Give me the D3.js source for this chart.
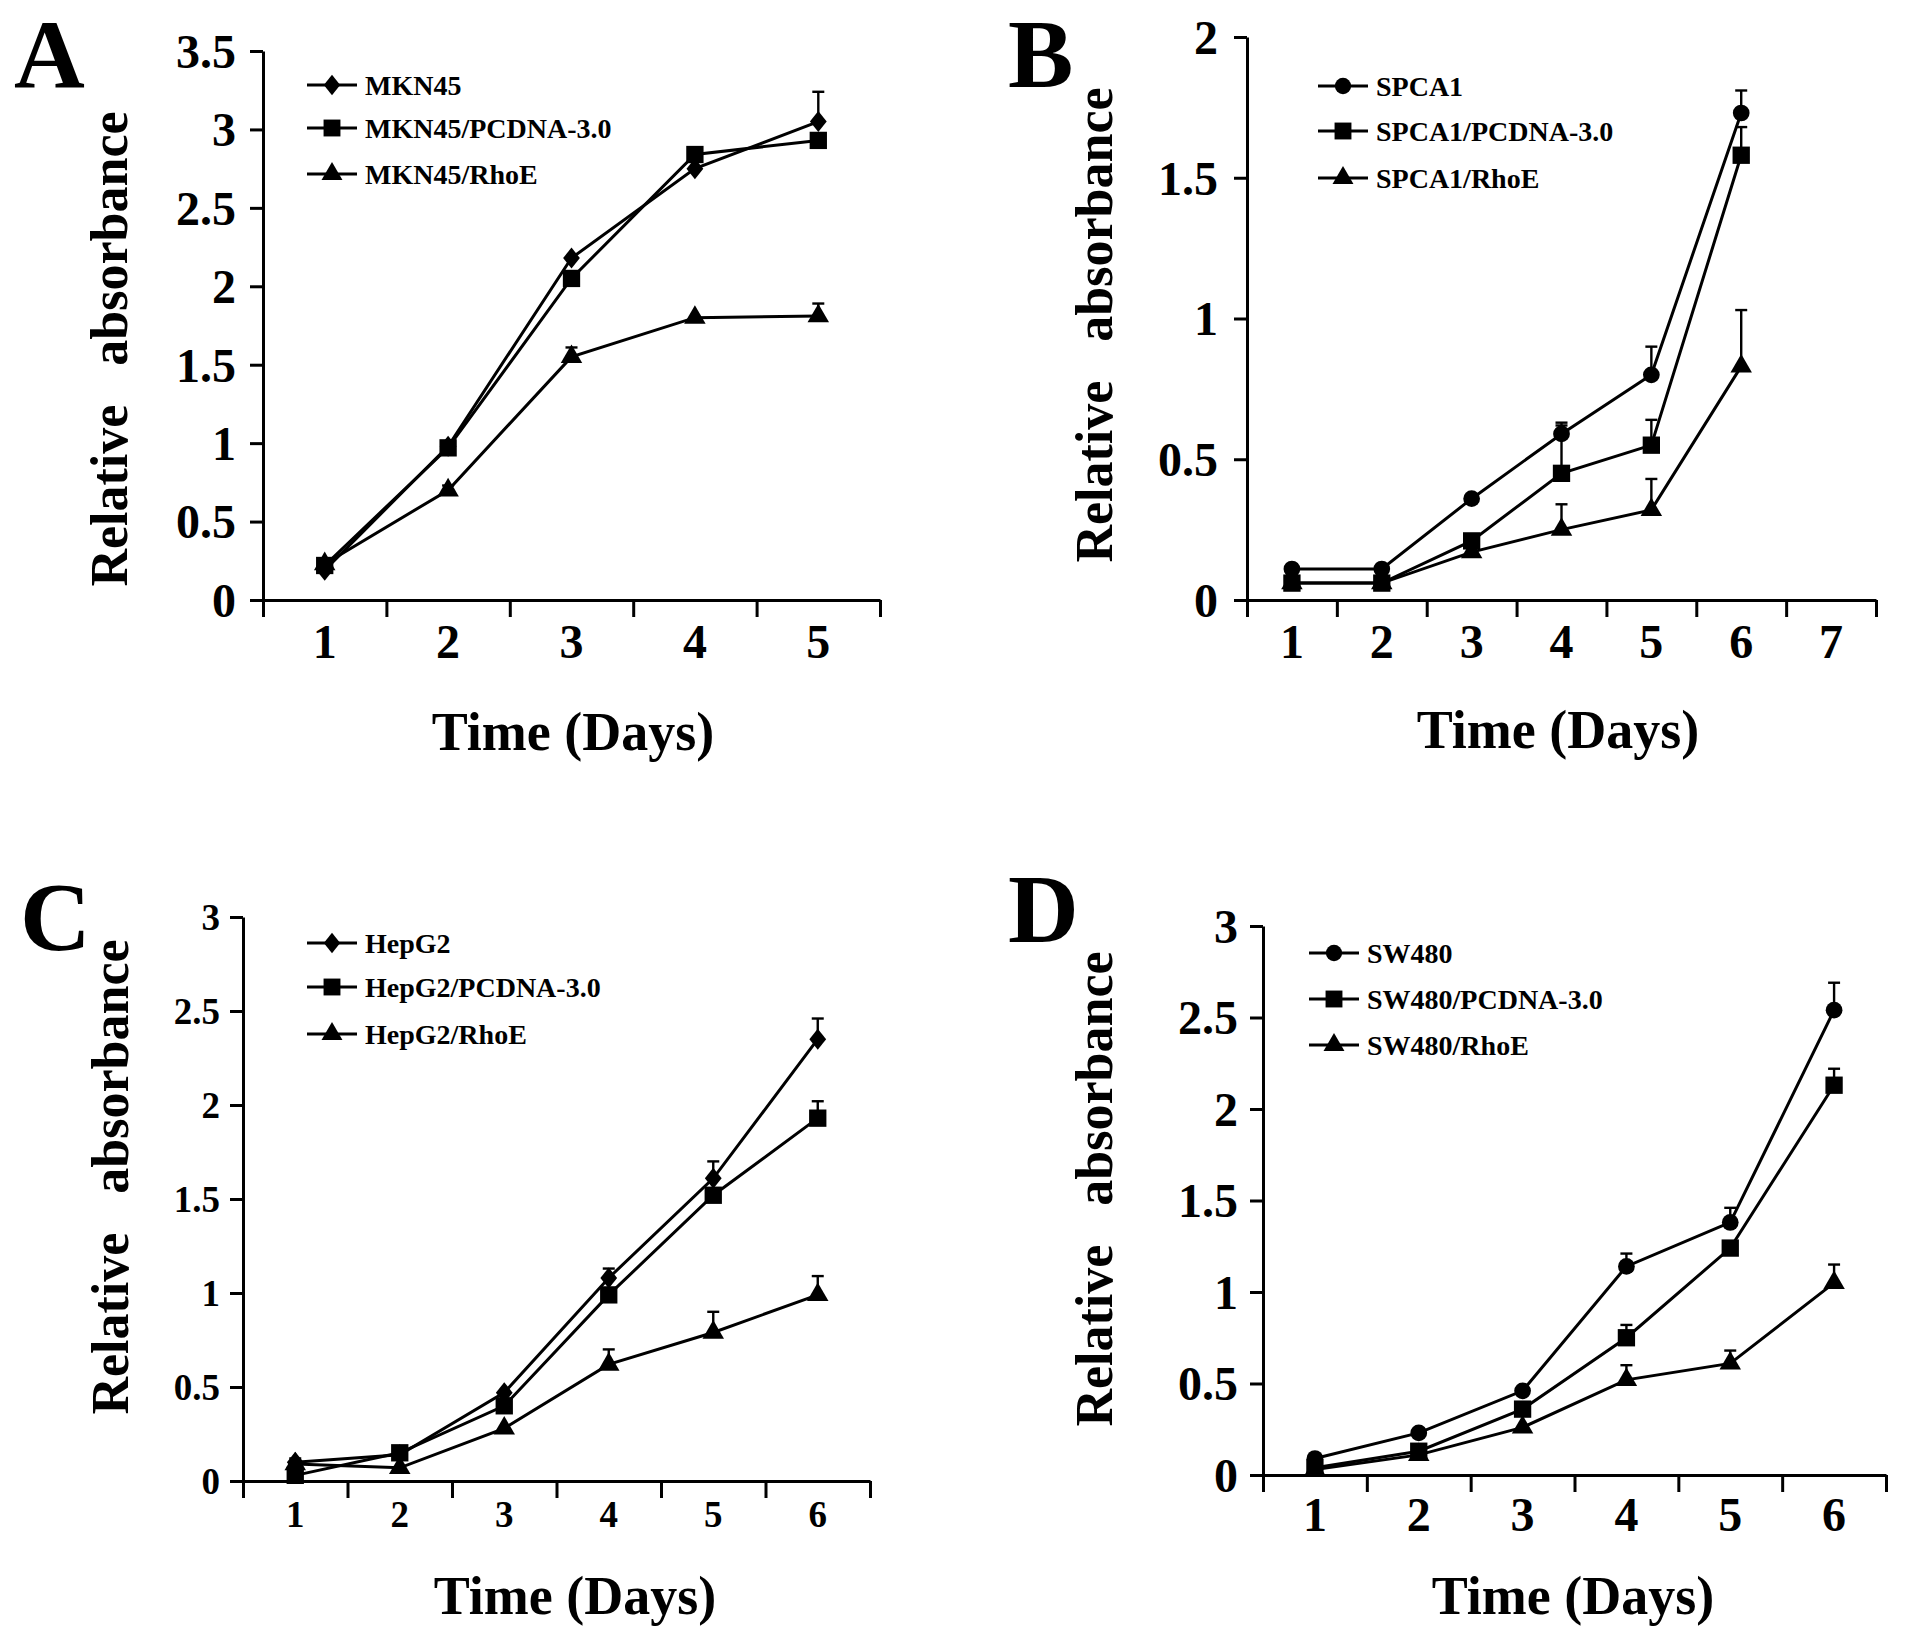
<!DOCTYPE html>
<html>
<head>
<meta charset="utf-8">
<script src="https://cdn.jsdelivr.net/npm/d3@7"></script>
<style>
  body { margin: 0; background: #fff; }
  svg text { font-family: "Liberation Serif", "Times New Roman", serif; font-weight: bold; fill: #000; }
</style>
</head>
<body>
<svg id="fig" width="1913" height="1646"></svg>
<script>
// ---- data ----
// Panel A (MKN45), days 1-5
const daysA = [1, 2, 3, 4, 5];
const namesA = ["MKN45", "MKN45/PCDNA-3.0", "MKN45/RhoE"];
const mkn45 = [0.19, 0.98, 2.18, 2.75, 3.05];
const mkn45Err = [0, 0, 0, 0, 0.19];
const mkn45Pc = [0.22, 0.97, 2.05, 2.84, 2.93];
const mkn45PcErr = [0, 0, 0, 0, 0];
const mkn45Rho = [0.23, 0.70, 1.55, 1.80, 1.81];
const mkn45RhoErr = [0, 0.03, 0.06, 0, 0.08];
const yTicksA = [0, 0.5, 1, 1.5, 2, 2.5, 3, 3.5];

// Panel B (SPCA1), axis days 1-7, data days 1-6
const daysB = [1, 2, 3, 4, 5, 6];
const namesB = ["SPCA1", "SPCA1/PCDNA-3.0", "SPCA1/RhoE"];
const spca1 = [0.11, 0.11, 0.36, 0.59, 0.80, 1.73];
const spca1Err = [0, 0, 0, 0.04, 0.10, 0.08];
const spca1Pc = [0.06, 0.06, 0.21, 0.45, 0.55, 1.58];
const spca1PcErr = [0, 0, 0, 0.17, 0.09, 0.10];
const spca1Rho = [0.06, 0.06, 0.17, 0.25, 0.32, 0.83];
const spca1RhoErr = [0, 0, 0, 0.09, 0.11, 0.20];
const yTicksB = [0, 0.5, 1, 1.5, 2];

// Panel C (HepG2), days 1-6
const daysC = [1, 2, 3, 4, 5, 6];
const namesC = ["HepG2", "HepG2/PCDNA-3.0", "HepG2/RhoE"];
const hepg2 = [0.10, 0.14, 0.47, 1.08, 1.61, 2.35];
const hepg2Err = [0.02, 0, 0, 0.05, 0.09, 0.11];
const hepg2Pc = [0.03, 0.15, 0.40, 0.99, 1.52, 1.93];
const hepg2PcErr = [0, 0, 0, 0, 0, 0.09];
const hepg2Rho = [0.09, 0.07, 0.28, 0.62, 0.79, 0.99];
const hepg2RhoErr = [0, 0, 0, 0.08, 0.11, 0.10];
const yTicksC = [0, 0.5, 1, 1.5, 2, 2.5, 3];

// Panel D (SW480), days 1-6
const daysD = [1, 2, 3, 4, 5, 6];
const namesD = ["SW480", "SW480/PCDNA-3.0", "SW480/RhoE"];
const sw480 = [0.09, 0.23, 0.46, 1.14, 1.38, 2.54];
const sw480Err = [0, 0, 0, 0.07, 0.08, 0.15];
const sw480Pc = [0.04, 0.13, 0.36, 0.75, 1.24, 2.13];
const sw480PcErr = [0, 0, 0, 0.07, 0, 0.09];
const sw480Rho = [0.03, 0.11, 0.26, 0.52, 0.61, 1.05];
const sw480RhoErr = [0, 0, 0, 0.08, 0.07, 0.10];
const yTicksD = [0, 0.5, 1, 1.5, 2, 2.5, 3];

// ---- markers ----
const diamond = {
  draw(ctx, size) {
    const h = Math.sqrt(size) / 2, w = h * 0.8;
    ctx.moveTo(0, -h); ctx.lineTo(w, 0); ctx.lineTo(0, h); ctx.lineTo(-w, 0); ctx.closePath();
  }
};
const shapes = {
  diamond: [diamond, 440],
  square: [d3.symbolSquare, 300],
  triangle: [d3.symbolTriangle, 200],
  circle: [d3.symbolCircle, 220]
};

const svg = d3.select("#fig");
const font = "Liberation Serif, Times New Roman, serif";

function panel(p) {
  const g = svg.append("g");
  const x = d3.scaleLinear().domain([0.5, p.nCat + 0.5]).range([p.x0, p.x1]);
  const y = d3.scaleLinear().domain([0, p.yMax]).range([p.y0, p.y1]);

  // x axis: ticks at category boundaries
  g.append("g")
    .attr("transform", `translate(0,${p.y0})`)
    .call(d3.axisBottom(x).tickValues(d3.range(0.5, p.nCat + 1, 1))
      .tickSize(17).tickSizeOuter(0).tickFormat(""))
    .call(a => a.selectAll("path,line").attr("stroke", "#000").attr("stroke-width", 3));

  g.selectAll(".xl").data(d3.range(1, p.nCat + 1)).join("text")
    .attr("x", d => x(d)).attr("y", p.y0 + p.xLabDy)
    .attr("text-anchor", "middle").attr("font-size", p.tickFont)
    .text(d => d);

  // y axis
  g.append("g")
    .attr("transform", `translate(${p.x0},0)`)
    .call(d3.axisLeft(y).tickValues(p.yTicks).tickSize(13).tickSizeOuter(0)
      .tickPadding(p.yPad).tickFormat(d => String(d)))
    .call(a => a.selectAll("path,line").attr("stroke", "#000").attr("stroke-width", 3))
    .call(a => a.selectAll("text").attr("font-family", font).attr("font-weight", "bold")
      .attr("font-size", p.tickFont).attr("fill", "#000").attr("dy", "0.34em"));

  // titles
  g.append("text").attr("x", p.xtX).attr("y", p.xtY)
    .attr("text-anchor", "middle").attr("font-size", 54).text("Time (Days)");
  g.append("text")
    .attr("transform", `translate(${p.ytX},${p.ytY}) rotate(-90)`)
    .attr("text-anchor", "middle").attr("font-size", 52)
    .style("white-space", "pre").text("Relative   absorbance");
  g.append("text").attr("x", p.letX).attr("y", p.letY)
    .attr("font-size", 98).text(p.letter);

  // series
  const line = d3.line().x(d => x(d.day)).y(d => y(d.v));
  p.series.forEach(s => {
    const pts = s.values.map((v, i) => ({ day: p.days[i], v, e: s.err[i] }));
    g.append("path").datum(pts).attr("d", line)
      .attr("fill", "none").attr("stroke", "#000").attr("stroke-width", 3);
    const eb = pts.filter(d => d.e > 0);
    g.selectAll(null).data(eb).join("line")
      .attr("x1", d => x(d.day)).attr("x2", d => x(d.day))
      .attr("y1", d => y(d.v)).attr("y2", d => y(d.v + d.e))
      .attr("stroke", "#000").attr("stroke-width", 2.4);
    g.selectAll(null).data(eb).join("line")
      .attr("x1", d => x(d.day) - 6).attr("x2", d => x(d.day) + 6)
      .attr("y1", d => y(d.v + d.e)).attr("y2", d => y(d.v + d.e))
      .attr("stroke", "#000").attr("stroke-width", 2.4);
    const [type, size] = shapes[s.shape];
    g.selectAll(null).data(pts).join("path")
      .attr("transform", d => `translate(${x(d.day)},${y(d.v)})`)
      .attr("d", d3.symbol(type, size)).attr("fill", "#000");
  });

  // legend
  p.series.forEach((s, i) => {
    const ly = p.legY[i];
    g.append("line").attr("x1", p.legX).attr("x2", p.legX + 50)
      .attr("y1", ly).attr("y2", ly).attr("stroke", "#000").attr("stroke-width", 3);
    const [type, size] = shapes[s.shape];
    g.append("path").attr("transform", `translate(${p.legX + 25},${ly})`)
      .attr("d", d3.symbol(type, size * 0.95)).attr("fill", "#000");
    g.append("text").attr("x", p.legX + 58).attr("y", ly).attr("dy", "0.35em")
      .attr("font-size", 28).text(s.name);
  });
}

panel({
  letter: "A", letX: 14, letY: 87,
  x0: 263, x1: 880, y0: 600, y1: 51, nCat: 5, yMax: 3.5, yTicks: yTicksA,
  days: daysA, tickFont: 48, yPad: 14, xLabDy: 58,
  xtX: 573, xtY: 750, ytX: 127, ytY: 349,
  legX: 307, legY: [85, 128, 174],
  series: [
    { name: namesA[0], shape: "diamond", values: mkn45, err: mkn45Err },
    { name: namesA[1], shape: "square", values: mkn45Pc, err: mkn45PcErr },
    { name: namesA[2], shape: "triangle", values: mkn45Rho, err: mkn45RhoErr }
  ]
});

panel({
  letter: "B", letX: 1008, letY: 87,
  x0: 1247, x1: 1876, y0: 600, y1: 37, nCat: 7, yMax: 2, yTicks: yTicksB,
  days: daysB, tickFont: 48, yPad: 16, xLabDy: 58,
  xtX: 1558, xtY: 748, ytX: 1112, ytY: 325,
  legX: 1318, legY: [86, 131, 178],
  series: [
    { name: namesB[0], shape: "circle", values: spca1, err: spca1Err },
    { name: namesB[1], shape: "square", values: spca1Pc, err: spca1PcErr },
    { name: namesB[2], shape: "triangle", values: spca1Rho, err: spca1RhoErr }
  ]
});

panel({
  letter: "C", letX: 20, letY: 950,
  x0: 243, x1: 870, y0: 1481, y1: 917, nCat: 6, yMax: 3, yTicks: yTicksC,
  days: daysC, tickFont: 37, yPad: 10, xLabDy: 46,
  xtX: 575, xtY: 1614, ytX: 128, ytY: 1177,
  legX: 307, legY: [943, 987, 1034],
  series: [
    { name: namesC[0], shape: "diamond", values: hepg2, err: hepg2Err },
    { name: namesC[1], shape: "square", values: hepg2Pc, err: hepg2PcErr },
    { name: namesC[2], shape: "triangle", values: hepg2Rho, err: hepg2RhoErr }
  ]
});

panel({
  letter: "D", letX: 1008, letY: 942,
  x0: 1263, x1: 1886, y0: 1475, y1: 926, nCat: 6, yMax: 3, yTicks: yTicksD,
  days: daysD, tickFont: 48, yPad: 12, xLabDy: 56,
  xtX: 1573, xtY: 1614, ytX: 1112, ytY: 1189,
  legX: 1309, legY: [953, 999, 1045],
  series: [
    { name: namesD[0], shape: "circle", values: sw480, err: sw480Err },
    { name: namesD[1], shape: "square", values: sw480Pc, err: sw480PcErr },
    { name: namesD[2], shape: "triangle", values: sw480Rho, err: sw480RhoErr }
  ]
});
</script>
</body>
</html>
